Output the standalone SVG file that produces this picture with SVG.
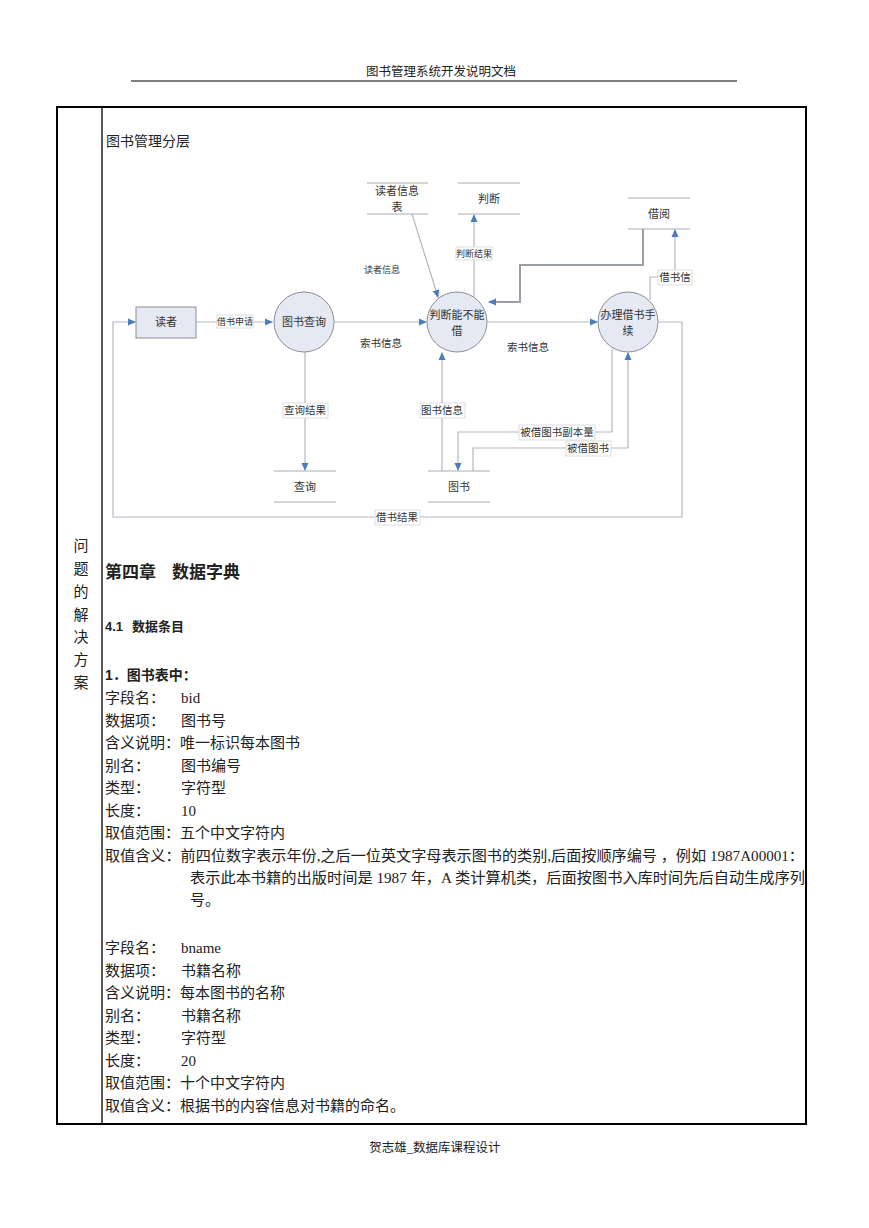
<svg xmlns="http://www.w3.org/2000/svg" width="869" height="1228" viewBox="0 0 869 1228">
<defs>
<marker id="ah" markerWidth="8" markerHeight="8" refX="7" refY="4" orient="auto" markerUnits="userSpaceOnUse">
<path d="M0,0.5 L8,4 L0,7.5 Z" fill="#4a7cc0"/>
</marker>
<style>
text{font-family:"Liberation Serif","Noto Sans CJK SC",serif;fill:#222}
.dg{font-family:"Noto Sans CJK SC","Liberation Sans",sans-serif;fill:#333}
.n{font-size:11px}
.s{font-size:9px}
.m{font-size:10.5px}
.ln{fill:none;stroke:#b4b8c4;stroke-width:1.2}
.ds{stroke:#a8abb3;stroke-width:1}
.proc{fill:#e4e9f4;stroke:#8e8e94;stroke-width:1}
.lb{fill:#fff;stroke:#d4d4d8;stroke-width:0.8}
.body{font-size:15px}
.bold{font-family:"Liberation Sans","Noto Sans CJK SC",sans-serif;font-weight:bold}
</style>
</defs>
<rect width="869" height="1228" fill="#fff"/>
<!-- page header/footer -->
<text x="441" y="76" font-size="12.5" text-anchor="middle">图书管理系统开发说明文档</text>
<line x1="131" y1="81" x2="737" y2="81" stroke="#000" stroke-width="1.2"/>
<text x="435" y="1152" font-size="12.5" text-anchor="middle">贺志雄_数据库课程设计</text>
<!-- table -->
<rect x="57" y="107" width="749" height="1017" fill="none" stroke="#000" stroke-width="2"/>
<line x1="102" y1="107" x2="102" y2="1124" stroke="#000" stroke-width="1.3"/>
<g font-size="15" text-anchor="middle" fill="#333">
<text x="81" y="551">问</text><text x="81" y="574">题</text><text x="81" y="597">的</text><text x="81" y="620">解</text><text x="81" y="642">决</text><text x="81" y="665">方</text><text x="81" y="688">案</text>
</g>
<text x="106" y="146" font-size="14">图书管理分层</text>

<!-- connectors -->
<g id="connectors">
<path class="ln" d="M196,322 H272" marker-end="url(#ah)"/>
<path class="ln" d="M334,322 H426" marker-end="url(#ah)"/>
<path class="ln" d="M487,322 H597" marker-end="url(#ah)"/>
<path class="ln" d="M412,214 L438,297" marker-end="url(#ah)"/>
<path class="ln" d="M474,298 V215" marker-end="url(#ah)"/>
<path d="M643,229 V265 H520 V302 H489" fill="none" stroke="#9a9ea8" stroke-width="2" marker-end="url(#ah)"/>
<path class="ln" d="M650,300 V277 H660"/>
<path class="ln" d="M675,270 V230" marker-end="url(#ah)"/>
<path class="ln" d="M305,352 V470" marker-end="url(#ah)"/>
<path class="ln" d="M442,471 V353" marker-end="url(#ah)"/>
<path class="ln" d="M612,349 V432 H458 V470" marker-end="url(#ah)"/>
<path class="ln" d="M473,471 V448 H628 V353" marker-end="url(#ah)"/>
<path class="ln" d="M658,322 H682 V517 H113 V322 H135" marker-end="url(#ah)"/>
<!-- labels -->
<rect class="lb" x="217" y="315" width="36" height="13"/>
<text class="dg s" x="235" y="325" text-anchor="middle">借书申请</text>
<text class="dg m" x="381" y="347" text-anchor="middle">索书信息</text>
<text class="dg m" x="528" y="351" text-anchor="middle">索书信息</text>
<text class="dg s" x="382" y="273" text-anchor="middle">读者信息</text>
<rect class="lb" x="456" y="247" width="36" height="13"/>
<text class="dg s" x="474" y="257" text-anchor="middle">判断结果</text>
<rect class="lb" x="658" y="270" width="34" height="15"/>
<text class="dg m" x="675" y="281" text-anchor="middle">借书信</text>
<rect class="lb" x="283" y="403" width="45" height="15"/>
<text class="dg m" x="305" y="414" text-anchor="middle">查询结果</text>
<rect class="lb" x="420" y="403" width="45" height="15"/>
<text class="dg m" x="442" y="414" text-anchor="middle">图书信息</text>
<rect class="lb" x="519" y="425" width="76" height="15"/>
<text class="dg m" x="557" y="436" text-anchor="middle">被借图书副本量</text>
<rect class="lb" x="566" y="441" width="45" height="15"/>
<text class="dg m" x="588" y="452" text-anchor="middle">被借图书</text>
<rect class="lb" x="375" y="510" width="45" height="15"/>
<text class="dg m" x="397" y="521" text-anchor="middle">借书结果</text>
</g>

<!-- nodes -->
<g id="reader">
<rect class="proc" x="136" y="307" width="60" height="31"/>
<text class="dg n" x="166" y="326" text-anchor="middle">读者</text>
</g>
<g id="query-proc">
<circle class="proc" cx="304" cy="322" r="30"/>
<text class="dg n" x="304" y="326" text-anchor="middle">图书查询</text>
</g>
<g id="judge-proc">
<circle class="proc" cx="457" cy="322" r="30"/>
<text class="dg n" x="457" y="319" text-anchor="middle">判断能不能</text>
<text class="dg n" x="457" y="335" text-anchor="middle">借</text>
</g>
<g id="borrow-proc">
<circle class="proc" cx="628" cy="322" r="30"/>
<text class="dg n" x="628" y="319" text-anchor="middle">办理借书手</text>
<text class="dg n" x="628" y="335" text-anchor="middle">续</text>
</g>
<g id="store-reader">
<line class="ds" x1="367" y1="183" x2="428" y2="183"/><line class="ds" x1="367" y1="214" x2="428" y2="214"/>
<text class="dg n" x="397" y="195" text-anchor="middle">读者信息</text>
<text class="dg n" x="397" y="211" text-anchor="middle">表</text>
</g>
<g id="store-judge">
<line class="ds" x1="458" y1="183" x2="520" y2="183"/><line class="ds" x1="458" y1="214" x2="520" y2="214"/>
<text class="dg n" x="489" y="203" text-anchor="middle">判断</text>
</g>
<g id="store-borrow">
<line class="ds" x1="628" y1="198" x2="690" y2="198"/><line class="ds" x1="628" y1="229" x2="690" y2="229"/>
<text class="dg n" x="659" y="218" text-anchor="middle">借阅</text>
</g>
<g id="store-query">
<line class="ds" x1="274" y1="471" x2="336" y2="471"/><line class="ds" x1="274" y1="502" x2="336" y2="502"/>
<text class="dg n" x="305" y="491" text-anchor="middle">查询</text>
</g>
<g id="store-book">
<line class="ds" x1="428" y1="471" x2="490" y2="471"/><line class="ds" x1="428" y1="502" x2="490" y2="502"/>
<text class="dg n" x="459" y="491" text-anchor="middle">图书</text>
</g>

<!-- text body -->
<text class="bold" x="105" y="578" font-size="17">第四章</text>
<text class="bold" x="172" y="578" font-size="17">数据字典</text>
<text class="bold" x="105" y="631" font-size="13">4.1</text>
<text class="bold" x="132" y="631" font-size="13">数据条目</text>
<text class="bold" x="105" y="680" font-size="14">1．图书表中：</text>
<g class="body" font-size="15">
<text x="105" y="703">字段名：</text><text x="181" y="703">bid</text>
<text x="105" y="726">数据项：</text><text x="181" y="726">图书号</text>
<text x="105" y="748">含义说明：唯一标识每本图书</text>
<text x="105" y="771">别名：</text><text x="181" y="771">图书编号</text>
<text x="105" y="793">类型：</text><text x="181" y="793">字符型</text>
<text x="105" y="816">长度：</text><text x="181" y="816">10</text>
<text x="105" y="838">取值范围：五个中文字符内</text>
<text x="105" y="861" textLength="699" lengthAdjust="spacingAndGlyphs">取值含义：前四位数字表示年份,之后一位英文字母表示图书的类别,后面按顺序编号 ，例如 1987A00001：</text>
<text x="190" y="883" textLength="615" lengthAdjust="spacingAndGlyphs">表示此本书籍的出版时间是 1987 年，A 类计算机类，后面按图书入库时间先后自动生成序列</text>
<text x="190" y="905">号。</text>
<text x="105" y="953">字段名：</text><text x="181" y="953">bname</text>
<text x="105" y="976">数据项：</text><text x="181" y="976">书籍名称</text>
<text x="105" y="998">含义说明：每本图书的名称</text>
<text x="105" y="1021">别名：</text><text x="181" y="1021">书籍名称</text>
<text x="105" y="1043">类型：</text><text x="181" y="1043">字符型</text>
<text x="105" y="1066">长度：</text><text x="181" y="1066">20</text>
<text x="105" y="1088">取值范围：十个中文字符内</text>
<text x="105" y="1111">取值含义：根据书的内容信息对书籍的命名。</text>
</g>
</svg>
